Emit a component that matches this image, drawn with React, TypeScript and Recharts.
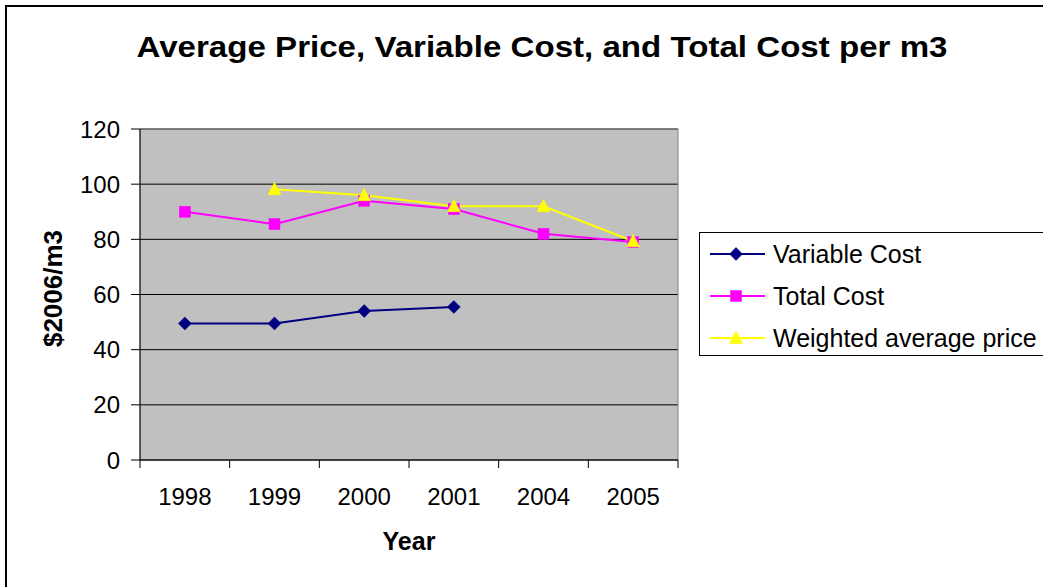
import React from 'react';
import { LineChart, Line, XAxis, YAxis, CartesianGrid, Legend, ReferenceArea, Label } from 'recharts';

const years = ['1998', '1999', '2000', '2001', '2004', '2005'];
const variableCost = [49.5, 49.5, 54, 55.5, null, null];
const totalCost = [90, 85.5, 94, 91, 82, 79];
const weightedPrice = [null, 98.2, 96, 92, 92, 79.3];
const yTicks = [0, 20, 40, 60, 80, 100, 120];

const seriesNames = ['Variable Cost', 'Total Cost', 'Weighted average price'];
const seriesKeys = ['variable', 'total', 'weighted'];
const seriesColors = ['#000080', '#FF00FF', '#FFFF00'];
const seriesShapes = ['diamond', 'square', 'triangle'];

const data = years.map((year, i) => ({
  year,
  variable: variableCost[i],
  total: totalCost[i],
  weighted: weightedPrice[i],
}));

const FONT = '"Liberation Sans", Arial, sans-serif';
const X_TICK_SIZE = 8;
const X_TICK_MARGIN = 20;

function marker(shape: string, color: string, cx: number, cy: number) {
  if (shape === 'diamond') {
    return <path d={`M${cx},${cy - 6.5}L${cx + 6.5},${cy}L${cx},${cy + 6.5}L${cx - 6.5},${cy}Z`} fill={color} stroke={color} strokeWidth={0.5} />;
  }
  if (shape === 'square') {
    return <rect x={cx - 5.5} y={cy - 5.5} width={11} height={11} fill={color} stroke={color} strokeWidth={0.5} />;
  }
  return <path d={`M${cx},${cy - 7}L${cx + 6.5},${cy + 5.5}L${cx - 6.5},${cy + 5.5}Z`} fill={color} stroke={color} strokeWidth={0.5} />;
}

const makeDot = (shape: string, color: string) => (props: any) => {
  const { cx, cy, index, value } = props;
  const k = `dot-${shape}-${index}`;
  if (value == null || !Number.isFinite(cx) || !Number.isFinite(cy)) return <g key={k} />;
  return <g key={k}>{marker(shape, color, cx, cy)}</g>;
};

const XTick = (props: any) => {
  const { x, y, payload, index, width } = props;
  const n = years.length;
  const half = (Number(width) || 538) / n / 2;
  const top = y - X_TICK_MARGIN - X_TICK_SIZE;
  return (
    <g>
      <line x1={x - half} x2={x - half} y1={top} y2={top + X_TICK_SIZE} stroke="#000" strokeWidth={1} />
      {index === n - 1 && (
        <line x1={x + half} x2={x + half} y1={top} y2={top + X_TICK_SIZE} stroke="#000" strokeWidth={1} />
      )}
      <text x={x} y={y} dy="0.71em" textAnchor="middle" fontSize={24} fontFamily={FONT} fill="#000">
        {payload.value}
      </text>
    </g>
  );
};

const renderLegend = () => (
  <div style={{ border: '1px solid #000', width: 420, height: 124, background: '#fff', boxSizing: 'border-box' }}>
    <svg width={420} height={122}>
      {seriesNames.map((name, i) => {
        const cy = 21 + i * 42;
        return (
          <g key={name}>
            <line x1={10} x2={65} y1={cy} y2={cy} stroke={seriesColors[i]} strokeWidth={2} />
            {marker(seriesShapes[i], seriesColors[i], 36, cy)}
            <text x={73} y={cy} dy="0.355em" fontSize={25} fontFamily={FONT} fill="#000">{name}</text>
          </g>
        );
      })}
    </svg>
  </div>
);

export default function App() {
  return (
    <div style={{ position: 'absolute', left: 0, top: 0, width: 1043, height: 587, overflow: 'hidden', background: '#fff', fontFamily: FONT }}>
      <div style={{ position: 'absolute', left: 5, top: 5, width: 1200, height: 800, borderLeft: '2px solid #000', borderTop: '2px solid #000' }} />
      <svg width={1043} height={80} style={{ position: 'absolute', left: 0, top: 0 }}>
        <text x={542} y={57} textAnchor="middle" fontSize={30} fontWeight="bold" fontFamily={FONT} textLength={811} lengthAdjust="spacingAndGlyphs" fill="#000">
          Average Price, Variable Cost, and Total Cost per m3
        </text>
      </svg>
      <div style={{ position: 'absolute', left: 0, top: 0 }}>
        <LineChart width={1043} height={587} data={data} margin={{ top: 129, right: 365, bottom: 0, left: 20 }}>
          <CartesianGrid vertical={false} stroke="#000" fill="#C0C0C0" fillOpacity={1} />
          <ReferenceArea y1={0} y2={120} fill="none" stroke="#808080" strokeWidth={1} />
          <XAxis
            dataKey="year"
            scale="band"
            height={127}
            axisLine={{ stroke: '#000', strokeWidth: 1 }}
            tickLine={false}
            tickSize={X_TICK_SIZE}
            tickMargin={X_TICK_MARGIN}
            tick={<XTick />}
            interval={0}
          >
            <Label
              content={(p: any) => {
                const vb = p.viewBox || { x: 140, y: 460, width: 538 };
                return (
                  <text x={vb.x + vb.width / 2} y={vb.y + 90} textAnchor="middle" fontSize={25} fontWeight="bold" fontFamily={FONT} fill="#000">
                    Year
                  </text>
                );
              }}
            />
          </XAxis>
          <YAxis
            domain={[0, 120]}
            ticks={yTicks}
            width={120}
            axisLine={{ stroke: '#000', strokeWidth: 1 }}
            tickLine={{ stroke: '#000', strokeWidth: 1 }}
            tickSize={9}
            tickMargin={11}
            tick={{ fontSize: 24, fill: '#000', fontFamily: FONT }}
            interval={0}
          >
            <Label
              content={(p: any) => {
                const vb = p.viewBox || { x: 20, y: 129, height: 331 };
                const cx = vb.x + 33;
                const cy = vb.y + vb.height / 2 - 6;
                return (
                  <text x={cx} y={cy} dy="0.355em" transform={`rotate(-90 ${cx} ${cy})`} textAnchor="middle" fontSize={26} fontWeight="bold" fontFamily={FONT} fill="#000">
                    $2006/m3
                  </text>
                );
              }}
            />
          </YAxis>
          {seriesKeys.map((key, i) => (
            <Line
              key={key}
              type="linear"
              dataKey={key}
              name={seriesNames[i]}
              stroke={seriesColors[i]}
              strokeWidth={2}
              dot={makeDot(seriesShapes[i], seriesColors[i])}
              activeDot={false}
              isAnimationActive={false}
            />
          ))}
          <Legend
            layout="vertical"
            align="center"
            verticalAlign="middle"
            wrapperStyle={{ left: 699, top: 232, width: 420, height: 124 }}
            content={renderLegend}
          />
        </LineChart>
      </div>
    </div>
  );
}
